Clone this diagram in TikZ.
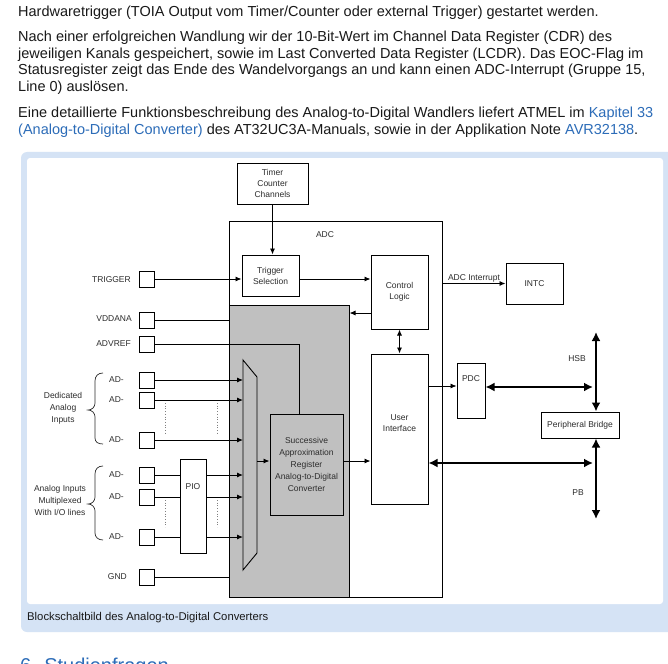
\documentclass[tikz,border=0pt]{standalone}
\usepackage{fontspec}
\setmainfont{Liberation Sans}
\usetikzlibrary{arrows.meta}
\definecolor{frameblue}{RGB}{213,227,245}
\definecolor{linkblue}{RGB}{44,108,184}
\definecolor{txt}{RGB}{25,25,25}
\definecolor{graybox}{RGB}{192,192,192}
\definecolor{dtxt}{RGB}{45,45,45}
\newcommand\bodyfnt{\fontsize{14.5}{16}\selectfont}
\newcommand\capfnt{\fontsize{11.3}{13}\selectfont}
\newcommand\headfnt{\fontsize{20}{24}\selectfont}
\newcommand\dfnt{\fontsize{8.5}{11}\selectfont}
\newcommand\sfnt{\fontsize{8.5}{12}\selectfont}
\tikzset{
  bodytext/.style={anchor=base west, inner sep=0pt, font=\bodyfnt, text=txt},
  blk/.style={draw=black, line width=1pt, fill=white, inner sep=0pt, align=center, font=\dfnt, text=dtxt},
  pinbox/.style={draw=black, line width=1pt, fill=white, minimum width=15pt, minimum height=16pt, inner sep=0pt},
  lbl/.style={font=\dfnt, text=dtxt, inner sep=0pt, align=center},
  arr/.style={line width=0.9pt, -{Latex[length=6pt,width=5pt]}},
  dblarr/.style={line width=0.9pt, {Latex[length=6pt,width=5pt]}-{Latex[length=6pt,width=5pt]}},
  bus/.style={line width=2.4pt, {Latex[length=9pt,width=9pt]}-{Latex[length=9pt,width=9pt]}},
  wire/.style={line width=0.9pt},
  dotln/.style={gray, line width=0.7pt, dotted},
  bracepath/.style={line width=0.7pt, draw=dtxt}
}
\begin{document}
\begin{tikzpicture}[x=1pt,y=-1pt]
\useasboundingbox (0,0) rectangle (668,663);
\begin{scope}
\clip (0,0) rectangle (668,663);
\fill[white] (0,0) rectangle (668,663);
% body text
\node[bodytext] (l1) at (18,16.5) {Hardwaretrigger (TOIA Output vom Timer/Counter oder external Trigger) gestartet werden.};
\node[bodytext] (l2) at (18,42) {Nach einer erfolgreichen Wandlung wir der 10-Bit-Wert im Channel Data Register (CDR) des};
\node[bodytext] (l3) at (18,58.5) {jeweiligen Kanals gespeichert, sowie im Last Converted Data Register (LCDR). Das EOC-Flag im};
\node[bodytext] (l4) at (18,75) {Statusregister zeigt das Ende des Wandelvorgangs an und kann einen ADC-Interrupt (Gruppe 15,};
\node[bodytext] (l5) at (18,91.5) {Line 0) auslösen.};
\node[bodytext] (l6) at (18,118) {Eine detaillierte Funktionsbeschreibung des Analog-to-Digital Wandlers liefert ATMEL im {\color{linkblue}Kapitel 33}};
\node[bodytext] (l7) at (18,134.5) {{\color{linkblue}(Analog-to-Digital Converter)} des AT32UC3A-Manuals, sowie in der Applikation Note {\color{linkblue}AVR32138}.};
% frame
\fill[frameblue, rounded corners=6pt] (21,152) rectangle (680,632);
\fill[white, rounded corners=3pt] (27,158) rectangle (663,604);
\node[anchor=base west, inner sep=0pt, font=\capfnt, text=txt] (cap) at (27,620) {Blockschaltbild des Analog-to-Digital Converters};
\node[anchor=base west, inner sep=0pt, font=\headfnt, text=linkblue] (head) at (20,672) {6. Studienfragen};
% ADC block
\node[draw=black, line width=1pt, minimum width=213pt, minimum height=376pt, inner sep=0pt] (adc) at (335.5,409) {};
\node[lbl] (adclbl) at (325,235) {ADC};
\node[draw=black, fill=graybox, line width=1pt, minimum width=120pt, minimum height=292pt, inner sep=0pt] (gray) at (289,451) {};
\node[blk, minimum width=71pt, minimum height=41pt] (timer) at (272.5,183.5) {Timer\\Counter\\Channels};
\node[blk, minimum width=57pt, minimum height=41pt] (trig) at (270.5,275.5) {Trigger\\Selection};
\node[blk, minimum width=57pt, minimum height=74pt] (ctrl) at (399.5,292) {Control\\Logic};
\node[blk, minimum width=57pt, minimum height=150pt] (ui) at (399.5,429) {};
\node[lbl] (uitxt) at (399.5,423) {User\\Interface};
\node[blk, fill=graybox, font=\sfnt, minimum width=73pt, minimum height=101pt] (sar) at (306.5,464.5) {Successive\\Approximation\\Register\\Analog-to-Digital\\Converter};
\node[blk, minimum width=57pt, minimum height=41pt] (intc) at (534.5,283.5) {INTC};
\node[blk, minimum width=28pt, minimum height=55pt] (pdc) at (471,390.5) {};
\node[lbl] (pdctxt) at (471,379) {PDC};
\node[blk, minimum width=78pt, minimum height=26pt] (bridge) at (580,425) {Peripheral Bridge};
\node[blk, minimum width=26pt, minimum height=94pt] (pio) at (193,506) {};
\node[lbl] (piotxt) at (193,487) {PIO};
% mux
\draw[fill=graybox, line width=0.9pt] (243,360) -- (257,377) -- (257,553) -- (243,570) -- cycle;
\coordinate (muxL) at (243,0);
\coordinate (muxR) at (257,461);
% pins
\node[pinbox] (ptrig) at (146.5,279) {};
\node[pinbox] (pvdd) at (146.5,320) {};
\node[pinbox] (pref) at (146.5,344) {};
\node[pinbox] (pd1) at (146.5,380) {};
\node[pinbox] (pd2) at (146.5,400) {};
\node[pinbox] (pd3) at (146.5,440) {};
\node[pinbox] (pm1) at (146.5,475) {};
\node[pinbox] (pm2) at (146.5,497) {};
\node[pinbox] (pm3) at (146.5,537) {};
\node[pinbox] (pgnd) at (146.5,577) {};
\node[lbl, anchor=east] (ltrig) at (131,280) {TRIGGER};
\node[lbl, anchor=east] (lvdd) at (132,319) {VDDANA};
\node[lbl, anchor=east] (lref) at (131,344) {ADVREF};
\node[lbl, anchor=east] (ld1) at (124,380) {AD-};
\node[lbl, anchor=east] (ld2) at (124,400) {AD-};
\node[lbl, anchor=east] (ld3) at (124,440) {AD-};
\node[lbl, anchor=east] (lm1) at (124,475) {AD-};
\node[lbl, anchor=east] (lm2) at (124,497) {AD-};
\node[lbl, anchor=east] (lm3) at (124,537) {AD-};
\node[lbl, anchor=east] (lgnd) at (127,577) {GND};
\node[lbl, font=\fontsize{8.5}{12}\selectfont] (dedlbl) at (63,408) {Dedicated\\Analog\\Inputs};
\node[lbl, font=\fontsize{8.5}{12}\selectfont] (muxlbl) at (60,500) {Analog Inputs\\Multiplexed\\With I/O lines};
% braces
\draw[bracepath] (103,373) .. controls (98,373) and (95,376) .. (95,381) -- (95,403) .. controls (95,407) and (92,410) .. (88,410) .. controls (92,410) and (95,413) .. (95,417) -- (95,438) .. controls (95,442) and (98,444) .. (103,444);
\draw[bracepath] (103,466) .. controls (98,466) and (95,469) .. (95,474) -- (95,497) .. controls (95,501) and (92,504) .. (88,504) .. controls (92,504) and (95,507) .. (95,511) -- (95,533) .. controls (95,537) and (98,540) .. (103,540);
% connectors
\draw[arr] (timer.south) -- (timer.south |- trig.north);
\draw[arr] (ptrig.east) -- (ptrig.east -| trig.west);
\draw[arr] (trig.east |- ptrig) -- (ptrig -| ctrl.west);
\draw[arr] ([yshift=-21pt]ctrl.west) -- ([yshift=-21pt]ctrl.west -| gray.east);
\draw[dblarr] (ctrl.south) -- (ui.north);
\draw[wire] (pvdd.east) -- (pvdd.east -| adc.west);
\coordinate (refc) at (299,344);
\draw[wire] (pref.east) -- (refc) -- (refc |- sar.north);
\draw[wire] (pgnd.east) -- (pgnd.east -| adc.west);
\draw[arr] (pd1.east) -- (pd1.east -| muxL);
\draw[arr] (pd2.east) -- (pd2.east -| muxL);
\draw[arr] (pd3.east) -- (pd3.east -| muxL);
\draw[wire] (pm1.east) -- (pm1.east -| pio.west);
\draw[wire] (pm2.east) -- (pm2.east -| pio.west);
\draw[wire] (pm3.east) -- (pm3.east -| pio.west);
\draw[arr] (pm1.east -| pio.east) -- (pm1.east -| muxL);
\draw[arr] (pm2.east -| pio.east) -- (pm2.east -| muxL);
\draw[arr] (pm3.east -| pio.east) -- (pm3.east -| muxL);
\draw[arr] (muxR) -- (muxR -| sar.west);
\draw[arr] (sar.east |- muxR) -- (muxR -| ui.west);
\draw[arr] (adc.east |- intc.west) -- (intc.west);
\node[lbl, anchor=south] (irqlbl) at (474,282) {ADC Interrupt};
\draw[arr, line width=0.7pt] (ui.east |- 0,386) -- (pdc.west |- 0,386);
\coordinate (hsbtop) at (596,332);
\coordinate (pbbot) at (596,519);
\coordinate (hsbj) at (593,387);
\coordinate (pbj) at (593,463);
\draw[bus] (pdc.east |- hsbj) -- (hsbj);
\draw[bus] (hsbtop) -- (hsbtop |- bridge.north);
\draw[bus] (pbbot |- bridge.south) -- (pbbot);
\draw[bus] (ui.east |- pbj) -- (pbj);
\node[lbl] (hsblbl) at (577,359) {HSB};
\node[lbl] (pblbl) at (578,493) {PB};
% dotted
\draw[dotln] (165,403) -- (165,433);
\draw[dotln] (217,403) -- (217,433);
\draw[dotln] (165,500) -- (165,527);
\draw[dotln] (217,500) -- (217,527);
\end{scope}
\end{tikzpicture}
\end{document}
